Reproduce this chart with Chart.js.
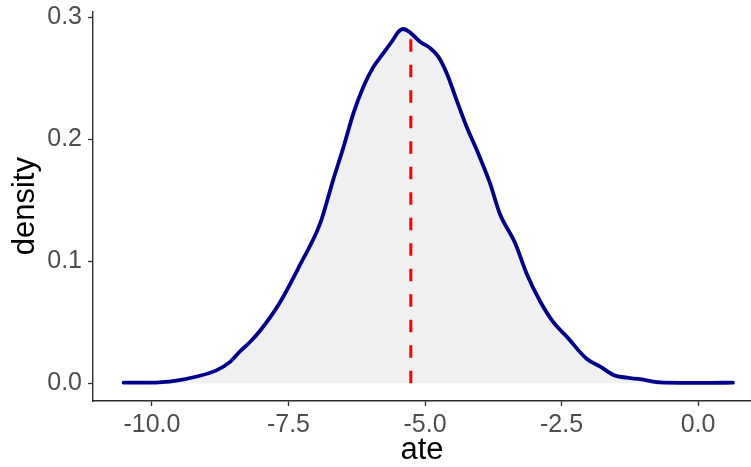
<!DOCTYPE html>
<html>
<head>
<meta charset="utf-8">
<script src="https://cdn.jsdelivr.net/npm/chart.js@4/dist/chart.umd.min.js"></script>
<style>
  html, body { margin: 0; padding: 0; background: #ffffff; }
  #wrap { width: 751px; height: 467px; }
</style>
</head>
<body>
<div id="wrap"><canvas id="c" width="751" height="467"></canvas></div>
<script>
// ---- data ----
const ateValues = [-10.52, -10.04, -9.55, -9.18, -8.82, -8.57, -8.39, -8.20, -8.02, -7.66, -7.29, -6.92, -6.68, -6.49, -6.31, -6.13, -5.95, -5.79, -5.61, -5.49, -5.40, -5.27, -5.09, -4.91, -4.76, -4.60, -4.42, -4.24, -4.05, -3.81, -3.63, -3.35, -3.14, -2.89, -2.65, -2.40, -2.04, -1.79, -1.55, -1.30, -1.06, -0.70, -0.30, 0.20, 0.64];
const densityValues = [0.0005, 0.0005, 0.0022, 0.0055, 0.0105, 0.0175, 0.026, 0.034, 0.043, 0.066, 0.097, 0.131, 0.167, 0.194, 0.2215, 0.243, 0.259, 0.269, 0.280, 0.288, 0.2905, 0.2875, 0.280, 0.275, 0.268, 0.254, 0.232, 0.2105, 0.191, 0.164, 0.139, 0.115, 0.090, 0.067, 0.050, 0.038, 0.020, 0.0136, 0.0068, 0.0045, 0.0033, 0.0006, 0.0003, 0.0003, 0.0004];
const meanAte = -5.26;
const meanLineTop = 0.2825;
const xTickValues = [-10, -7.5, -5, -2.5, 0];
const yTickValues = [0, 0.1, 0.2, 0.3];
const xTitle = 'ate';
const yTitle = 'density';

const curvePoints = ateValues.map((x, i) => ({ x: x, y: densityValues[i] }));
const meanPoints = [{ x: meanAte, y: 0 }, { x: meanAte, y: meanLineTop }];

const tickFont = { family: "'Liberation Sans', Arial, sans-serif", size: 25 };
const titleFont = { family: "'Liberation Sans', Arial, sans-serif", size: 31, lineHeight: 1 };

new Chart(document.getElementById('c'), {
  type: 'line',
  data: {
    datasets: [
      {
        data: meanPoints,
        borderColor: '#FF0000',
        borderWidth: 3,
        borderDash: [12.5, 13],
        borderCapStyle: 'butt',
        pointRadius: 0,
        fill: false,
        order: 0
      },
      {
        data: curvePoints,
        borderColor: '#00008B',
        borderWidth: 3.8,
        backgroundColor: '#F0F0F0',
        fill: 'origin',
        cubicInterpolationMode: 'monotone',
        borderCapStyle: 'round',
        borderJoinStyle: 'round',
        pointRadius: 0,
        order: 1
      }
    ]
  },
  options: {
    responsive: false,
    animation: false,
    devicePixelRatio: 1,
    layout: { padding: { left: 0, right: 0, top: 11.3, bottom: 0 } },
    plugins: {
      legend: { display: false },
      tooltip: { enabled: false },
      filler: { drawTime: 'beforeDatasetsDraw' }
    },
    scales: {
      x: {
        type: 'linear',
        min: -11.08,
        max: 0.97,
        afterBuildTicks: (s) => { s.ticks = xTickValues.map(v => ({ value: v })); },
        afterFit: (s) => { s.height = 66; s.paddingLeft = 0; s.paddingRight = 0; s.paddingTop = 0; s.paddingBottom = 0; },
        grid: { display: true, drawOnChartArea: false, drawTicks: true, tickLength: 5, tickColor: '#333333', tickWidth: 1.3 },
        border: { display: true, color: '#2b2b2b', width: 1.4 },
        ticks: {
          color: '#4D4D4D',
          font: tickFont,
          padding: 4,
          maxRotation: 0,
          autoSkip: false,
          callback: (v) => Number(v).toFixed(1)
        },
        title: { display: true, text: xTitle, color: '#000000', font: titleFont, padding: { top: 0, bottom: 1 } }
      },
      y: {
        type: 'linear',
        min: -0.0146,
        max: 0.305,
        afterBuildTicks: (s) => { s.ticks = yTickValues.map(v => ({ value: v })); },
        afterFit: (s) => { s.width = 93; s.paddingLeft = 0; s.paddingRight = 0; s.paddingTop = 0; s.paddingBottom = 0; },
        grid: { display: true, drawOnChartArea: false, drawTicks: true, tickLength: 5, tickColor: '#333333', tickWidth: 1.3 },
        border: { display: true, color: '#2b2b2b', width: 1.4 },
        ticks: {
          color: '#4D4D4D',
          font: tickFont,
          padding: 6,
          autoSkip: false,
          callback: (v) => Number(v).toFixed(1)
        },
        title: { display: true, text: yTitle, color: '#000000', font: titleFont, padding: { top: 10, bottom: 0 } }
      }
    }
  }
});
</script>
</body>
</html>
